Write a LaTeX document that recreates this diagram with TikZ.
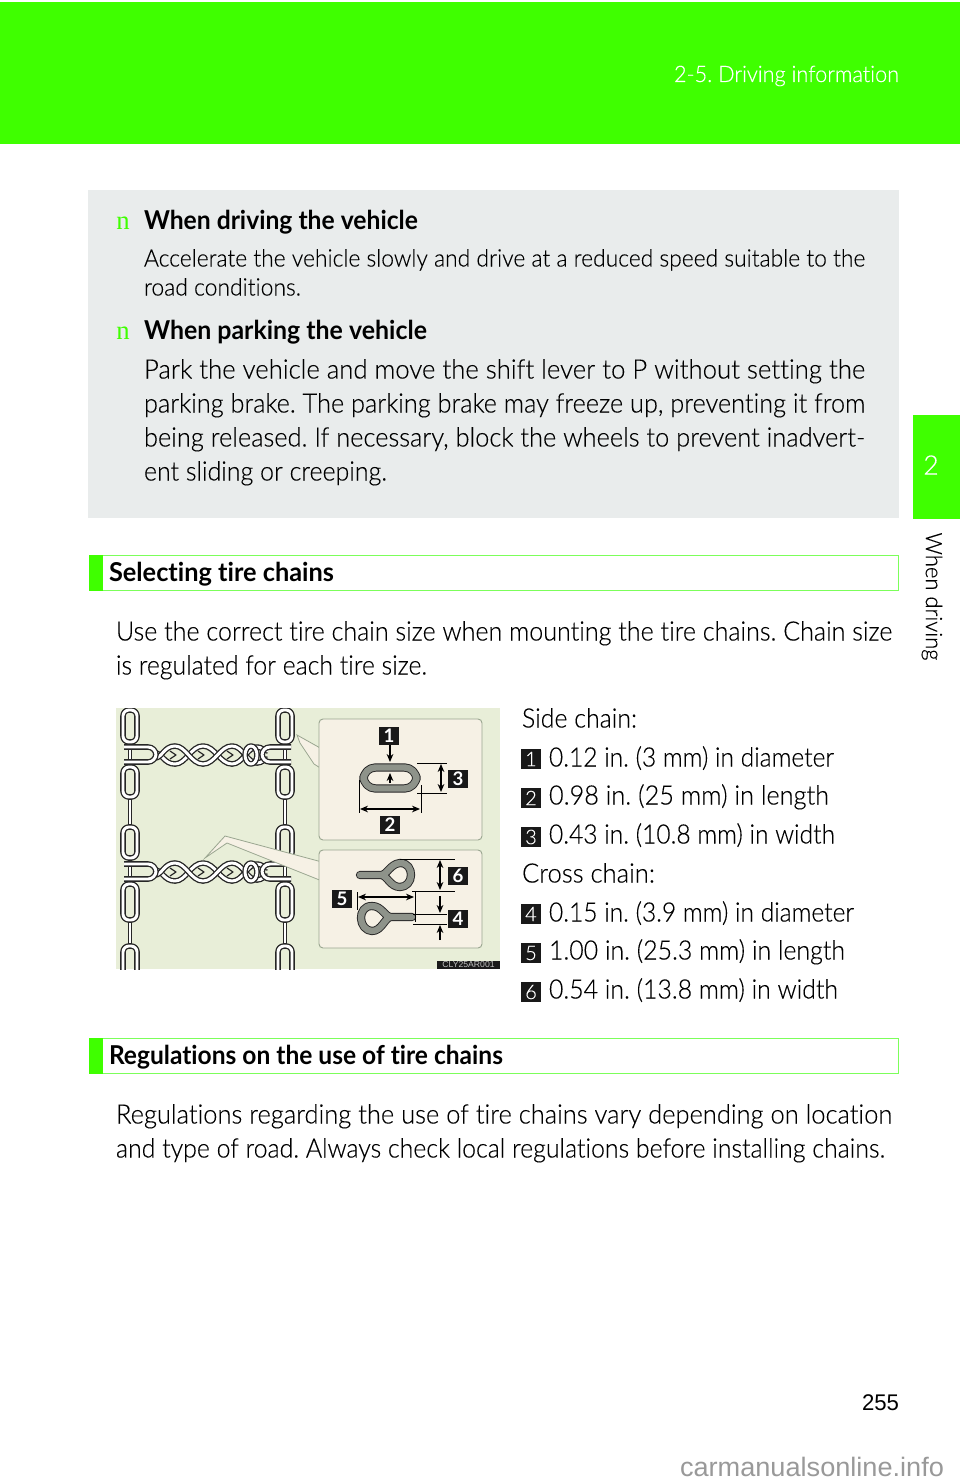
\documentclass[tikz,border=0pt]{standalone}
\usepackage{graphicx}
\usepackage{fontspec}
\setmainfont{Lato Light}[BoldFont={Lato Bold},Ligatures=NoCommon,UprightFeatures={FakeBold=0.25}]
\newfontfamily\serifbul{Liberation Serif}
\newfontfamily\wmark{Liberation Sans}
\usetikzlibrary{arrows.meta}
\definecolor{hgreen}{HTML}{3FFF00}
\definecolor{panelgray}{HTML}{E9ECEC}
\definecolor{imgbg}{HTML}{E8EED8}
\definecolor{cream}{HTML}{F6F1E5}
\definecolor{panelline}{HTML}{9AA690}
\definecolor{steel}{HTML}{8E938A}
\definecolor{boxgreen}{HTML}{7CFF5A}
\newsavebox\fitbox
\newcount\fitn
\newlength\fitw
\newcommand{\fitline}[5]{%
  \global\advance\fitn by 1
  \node[txt] (t\the\fitn) at (#1,#2-0.5) {\frenchspacing\sbox\fitbox{#4#5}\setlength\fitw{\wd\fitbox}\pgfmathsetmacro\fitr{#3*0.75/\fitw}\scalebox{\fitr}[1]{\usebox\fitbox}};}
\newcommand{\bodyf}{\fontsize{20}{24}\selectfont}
\newcommand{\smallf}{\fontsize{18}{22}\selectfont}
\newcommand{\headf}{\fontsize{19.5}{24}\bfseries\selectfont}
\tikzset{
  x=0.75pt,y=-0.75pt,
  txt/.style={anchor=base west,inner sep=0pt,outer sep=0pt},
  linkline/.style={draw=black!85,line width=1pt,double=white,double distance=2.2pt,line join=round},
  edgeline/.style={draw=black!85,line width=0.9pt,double=white,double distance=1pt},
  steelband/.style={draw=black!85,line width=0.7pt,double=steel,double distance=4.8pt,line join=round},
  dimline/.style={draw=black,line width=0.7pt},
  dimarrow/.style={draw=black,line width=0.8pt,{Stealth[length=6pt,width=5pt]}-{Stealth[length=6pt,width=5pt]}},
  onearrow/.style={draw=black,line width=0.8pt,-{Stealth[length=6pt,width=5pt]}},
  picnum/.style={fill=black!90,text=white,font=\bfseries\fontsize{14}{14}\selectfont,inner sep=0pt,minimum width=15pt,minimum height=13.5pt},
  listnum/.style={fill=black!90,text=white,font=\fontsize{15}{15}\selectfont,inner sep=0pt,minimum width=15pt,minimum height=15pt},
  section/.style={draw=boxgreen,line width=0.7pt,fill=white},
  panel/.style={draw=panelline,line width=0.7pt,fill=cream,rounded corners=3pt},
}
\newcommand{\facelink}[3]{\draw[linkline,rounded corners=4.5pt] (#1-7,#2) rectangle (#1+7,#3);}
\newcommand{\edgelink}[3]{\draw[edgeline] (#1,#2) -- (#1,#3);}
\newcommand{\crosschain}[1]{%
  \draw[linkline] (155,#1-2) .. controls (162,#1-2) and (164,#1+9) .. (175,#1+9)
     .. controls (186,#1+9) and (191,#1-9) .. (203,#1-9)
     .. controls (215,#1-9) and (220,#1+9) .. (232,#1+9)
     .. controls (243,#1+9) and (247,#1-8) .. (257,#1-8)
     .. controls (262,#1-8) and (264,#1-4) .. (268,#1-4);
  \draw[linkline] (155,#1+3) .. controls (162,#1+3) and (164,#1-9) .. (175,#1-9)
     .. controls (186,#1-9) and (191,#1+9) .. (203,#1+9)
     .. controls (215,#1+9) and (220,#1-9) .. (232,#1-9)
     .. controls (243,#1-9) and (247,#1+8) .. (257,#1+8)
     .. controls (262,#1+8) and (264,#1+4) .. (268,#1+4);
  \foreach \ex in {175,203,232}{\draw[draw=black!85,line width=0.9pt,line join=round] (\ex-5,#1-4) -- (\ex+1,#1) -- (\ex-5,#1+4);}
  \draw[linkline] (251,#1) ellipse (6 and 9);
  \draw[linkline,rounded corners=6pt] (124,#1-8) -- (156,#1-8) -- (156,#1+7) -- (124,#1+7);
  \draw[linkline,rounded corners=6pt] (291,#1-8) -- (262,#1-8) -- (262,#1+7) -- (291,#1+7);
}
\begin{document}
\begin{tikzpicture}
\useasboundingbox (0,0) rectangle (960,1484);
\fill[white] (0,0) rectangle (960,1484);
% header
\fill[hgreen] (0,2) rectangle (960,144);
\fitline{674}{82.5}{225}{\fontsize{17}{20}\selectfont\color{white}}{2-5. Driving information}
% side tab
\fill[hgreen] (913,415) rectangle (960,519);
\node[inner sep=0pt,text=white,font=\fontsize{20}{20}\selectfont] (tabnum) at (931,465) {2};
\node[inner sep=0pt,rotate=-90,anchor=center,font=\fontsize{17}{20}\selectfont] (tablabel) at (932,596.5) {\scalebox{0.97}[1]{When driving}};
% gray panel
\fill[panelgray] (88,190) rectangle (899,518);
\node[inner sep=0pt,anchor=base west,text=hgreen,font=\serifbul\fontsize{20}{20}\selectfont] (b1) at (116,229) {n};
\node[inner sep=0pt,anchor=base west,text=hgreen,font=\serifbul\fontsize{20}{20}\selectfont] (b2) at (116,339) {n};
\fitline{144}{230}{274}{\headf}{When driving the vehicle}
\fitline{144}{267}{721}{\smallf}{Accelerate the vehicle slowly and drive at a reduced speed suitable to the}
\fitline{144}{296}{157}{\smallf}{road conditions.}
\fitline{144}{340}{283}{\headf}{When parking the vehicle}
\fitline{144}{379}{721}{\bodyf}{Park the vehicle and move the shift lever to P without setting the}
\fitline{144}{413}{721}{\bodyf}{parking brake. The parking brake may freeze up, preventing it from}
\fitline{144}{447}{721}{\bodyf}{being released. If necessary, block the wheels to prevent inadvert-}
\fitline{144}{481}{243}{\bodyf}{ent sliding or creeping.}
% section 1
\draw[section] (89,555.5) rectangle (898.5,590);
\fill[hgreen] (89,555) rectangle (103,590.5);
\fitline{109}{582}{225}{\headf}{Selecting tire chains}
\fitline{116}{641}{776}{\bodyf}{Use the correct tire chain size when mounting the tire chains. Chain size}
\fitline{116}{675}{311}{\bodyf}{is regulated for each tire size.}
% illustration
\fill[imgbg] (116,708) rectangle (500,969);
\begin{scope}
\clip (116,708) rectangle (500,969);
\foreach \cx in {130,285}{
  \edgelink{\cx}{740}{769}
  \edgelink{\cx}{858}{886}
  \edgelink{\cx}{797}{827}
  \edgelink{\cx}{920}{946}
  \facelink{\cx}{710}{742}
  \facelink{\cx}{767}{797}
  \facelink{\cx}{827}{858}
  \facelink{\cx}{884}{920}
  \facelink{\cx}{946}{985}
}
\crosschain{755}
\crosschain{872}
\end{scope}
% callouts
\filldraw[fill=cream,draw=panelline,line width=0.6pt] (205,858) -- (225,836) -- (322,862) -- (322,881) -- (227,843) -- cycle;
\filldraw[fill=cream,draw=panelline,line width=0.6pt] (297,735) -- (322,749) -- (322,769) -- (314,764) -- (300,743) -- cycle;
\draw[panel] (319,719) rectangle (482,840);
\draw[panel] (319,850) rectangle (482,948);
% top link
\draw[steelband,rounded corners=9pt] (363.5,767.5) rectangle (416.5,788.5);
\draw[dimline] (417,763) -- (447,763);
\draw[dimline] (417,793) -- (447,793);
\draw[dimline] (359,780) -- (359,813);
\draw[dimline] (421,785) -- (421,813);
\draw[dimarrow] (441,764) -- (441,792);
\draw[dimarrow] (360,809) -- (420,809);
\draw[onearrow] (390,744) -- (390,762);
\draw[onearrow] (390,783) -- (390,773);
\node[picnum] (p1) at (389,735.5) {1};
\node[picnum] (p2) at (390,825) {2};
\node[picnum] (p3) at (458,779) {3};
% hooks
\draw[steelband,line cap=round] (360,875) -- (381,875) .. controls (387,875) and (390,864) .. (400,863) .. controls (408,863) and (411,869) .. (411,875) .. controls (411,882) and (406,887) .. (400,887) .. controls (390,887) and (387,875) .. (381,875);
\draw[steelband,line cap=round] (412,917) -- (391,917) .. controls (385,917) and (382,906) .. (372,906) .. controls (364,906) and (361,912) .. (361,918) .. controls (361,925) and (366,931) .. (372,931) .. controls (382,931) and (385,917) .. (391,917);
\draw[dimline] (400,859) -- (455,859);
\draw[dimline] (412,891) -- (455,891);
\draw[dimline] (415,891) -- (415,922);
\draw[dimline] (357,892) -- (357,910);
\draw[dimline] (413,914) -- (447,914);
\draw[dimline] (413,924) -- (447,924);
\draw[dimarrow] (358,897) -- (414,897);
\draw[dimarrow] (440,860) -- (440,890);
\draw[onearrow] (440,896) -- (440,913);
\draw[onearrow] (440,940) -- (440,925);
\node[picnum] (p6) at (458,876) {6};
\node[picnum] (p5) at (342,899) {5};
\node[picnum] (p4) at (458,919) {4};
% code
\fill[black!90] (437,961) rectangle (500,969);
\node[inner sep=0pt,text=white!75!black,font=\wmark\fontsize{6.5}{7}\selectfont] (code) at (468.5,965) {CLY25AR001};
% list
\fitline{522}{728}{115}{\bodyf}{Side chain:}
\node[listnum] (n1) at (531,759) {1};
\fitline{549}{767}{285}{\bodyf}{0.12 in. (3 mm) in diameter}
\node[listnum] (n2) at (531,798) {2};
\fitline{549}{805}{280}{\bodyf}{0.98 in. (25 mm) in length}
\node[listnum] (n3) at (531,837) {3};
\fitline{549}{844}{286}{\bodyf}{0.43 in. (10.8 mm) in width}
\fitline{522}{883}{133}{\bodyf}{Cross chain:}
\node[listnum] (n4) at (531,914) {4};
\fitline{549}{922}{305}{\bodyf}{0.15 in. (3.9 mm) in diameter}
\node[listnum] (n5) at (531,953) {5};
\fitline{549}{960}{296}{\bodyf}{1.00 in. (25.3 mm) in length}
\node[listnum] (n6) at (531,992) {6};
\fitline{549}{999}{289}{\bodyf}{0.54 in. (13.8 mm) in width}
% section 2
\draw[section] (89,1038.5) rectangle (898.5,1073);
\fill[hgreen] (89,1038) rectangle (103,1073.5);
\fitline{109}{1065}{394}{\headf}{Regulations on the use of tire chains}
\fitline{116}{1124}{776}{\bodyf}{Regulations regarding the use of tire chains vary depending on location}
\fitline{116}{1158}{769}{\bodyf}{and type of road. Always check local regulations before installing chains.}
% footer
\fitline{862}{1410.5}{37}{\wmark\fontsize{17}{20}\selectfont}{255}
\fitline{680}{1477}{264}{\wmark\fontsize{20}{24}\selectfont\color{black!40}}{carmanualsonline.info}
\end{tikzpicture}
\end{document}
